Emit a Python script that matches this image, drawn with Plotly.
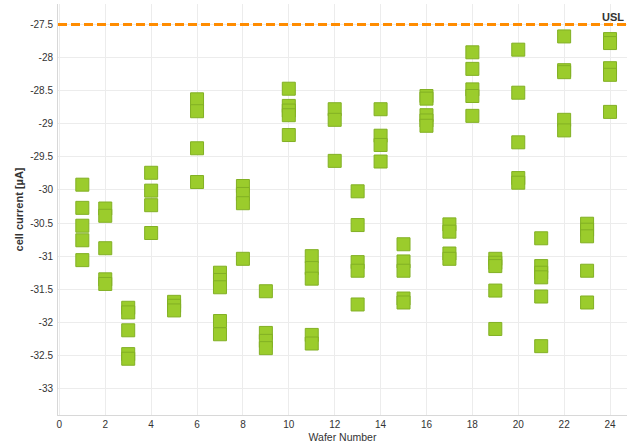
import plotly.graph_objects as go

wafers = list(range(1, 25))
cell_current = {
    1: [-29.92, -30.27, -30.54, -30.76, -31.06],
    2: [-30.28, -30.39, -30.88, -31.35, -31.42],
    3: [-31.78, -31.85, -32.12, -32.48, -32.55],
    4: [-29.74, -30.01, -30.23, -30.65],
    5: [-31.69, -31.75, -31.82],
    6: [-28.63, -28.81, -29.37, -29.88],
    7: [-31.25, -31.36, -31.47, -31.98, -32.18],
    8: [-29.94, -30.06, -30.2, -31.04],
    9: [-31.53, -32.16, -32.28, -32.39],
    10: [-28.47, -28.73, -28.8, -28.87, -29.17],
    11: [-31.0, -31.18, -31.34, -32.19, -32.32],
    12: [-28.78, -28.94, -29.56],
    13: [-30.02, -30.53, -31.09, -31.22, -31.73],
    14: [-28.78, -29.18, -29.32, -29.57],
    15: [-30.82, -31.08, -31.22, -31.64, -31.7],
    16: [-28.58, -28.62, -28.87, -28.95, -29.03],
    17: [-30.52, -30.63, -30.96, -31.04],
    18: [-27.92, -28.17, -28.48, -28.58, -28.88],
    19: [-31.04, -31.1, -31.15, -31.52, -32.1],
    20: [-27.88, -28.53, -29.28, -29.82, -29.89],
    21: [-30.73, -31.15, -31.25, -31.32, -31.61, -32.36],
    22: [-27.68, -28.19, -28.22, -28.94, -29.1],
    23: [-30.51, -30.6, -30.7, -31.22, -31.7],
    24: [-27.72, -27.78, -28.16, -28.26, -28.82],
}
usl = -27.5
x_ticks = list(range(0, 25, 2))
y_ticks = [-27.5 - 0.5 * i for i in range(12)]
y_tick_labels = [f"{v:g}" for v in y_ticks]

xs, ys = [], []
for w in wafers:
    for v in cell_current[w]:
        xs.append(w)
        ys.append(v)

fig = go.Figure()
fig.add_trace(go.Scatter(
    x=xs, y=ys, mode="markers",
    marker=dict(symbol="square", size=13, color="#9BCC2C",
                line=dict(color="#82B024", width=1)),
    showlegend=False, hoverinfo="x+y",
))
fig.add_shape(type="line", xref="paper", yref="y", x0=0, x1=1, y0=usl, y1=usl,
              line=dict(color="#FF8C00", width=3, dash="9px,4px"))
fig.add_annotation(x=24.15, y=usl, xref="x", yref="y", text="<b>USL</b>",
                   showarrow=False, yanchor="bottom", xanchor="center", yshift=0,
                   font=dict(family="Liberation Sans, Arial", size=11, color="#333"))

fig.update_layout(
    width=627, height=444,
    margin=dict(l=58, r=0, t=4, b=29),
    paper_bgcolor="white", plot_bgcolor="white",
    font=dict(family="Liberation Sans, Arial", size=11, color="#333"),
    xaxis=dict(range=[-0.06, 24.74], tickvals=x_ticks, showgrid=True,
               gridcolor="#ECECEC", gridwidth=1, zeroline=False,
               showline=True, linecolor="#D8D8D8", linewidth=1,
               ticks="", tickfont=dict(size=10, color="#333"),
               title=dict(text="Wafer Number", font=dict(size=10.5, color="#333"), standoff=4)),
    yaxis=dict(range=[-33.4, -27.19], tickvals=y_ticks, ticktext=y_tick_labels,
               showgrid=True, gridcolor="#ECECEC", gridwidth=1, zeroline=False,
               showline=True, linecolor="#D8D8D8", linewidth=1,
               ticks="", tickfont=dict(size=10, color="#333"), ticklabelstandoff=2,
               title=dict(text="<b>cell current [µA]</b>", font=dict(size=11, color="#333"), standoff=4)),
)

fig.write_html("out.html", config={"displayModeBar": False},
               post_script="document.body.style.margin='0';document.body.style.overflow='hidden';")
